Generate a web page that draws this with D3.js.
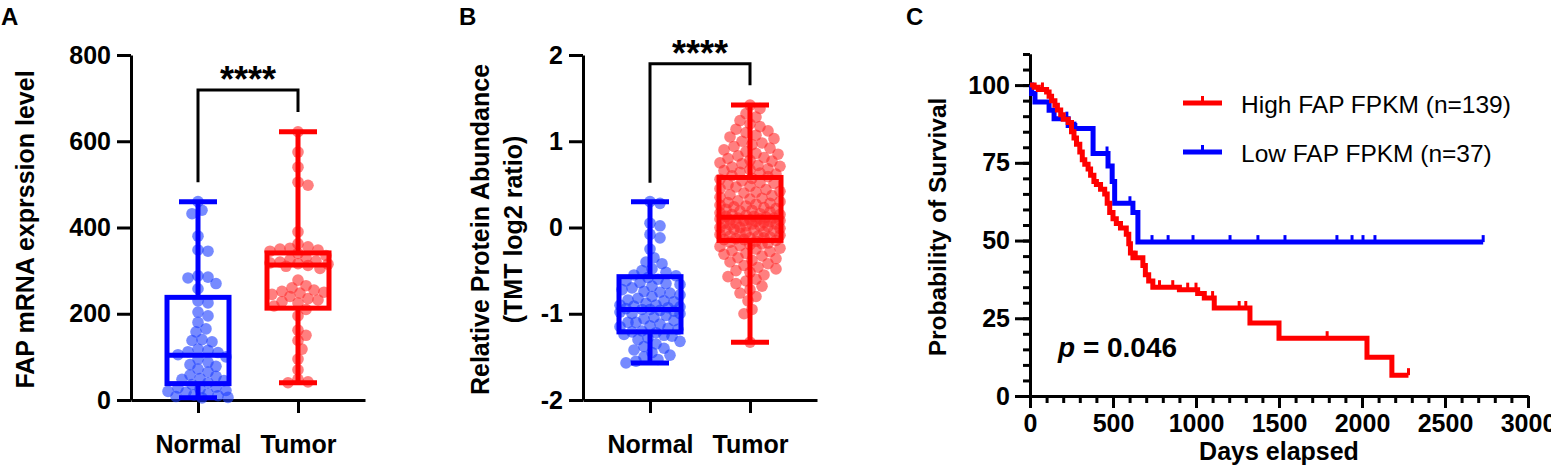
<!DOCTYPE html>
<html>
<head>
<meta charset="utf-8">
<script src="https://cdn.jsdelivr.net/npm/d3@7"></script>
<style>
  body { margin: 0; background: #fff; }
  svg { display: block; font-family: "Liberation Sans", Arial, sans-serif; }
  .axis path, .axis line { stroke: #000; stroke-width: 3; }
  .axis text { font-weight: bold; font-size: 25px; fill: #000; font-family: "Liberation Sans", Arial, sans-serif; }
</style>
</head>
<body>
<svg id="chart" width="1551" height="468"></svg>
<script>
const groups = ["Normal", "Tumor"];

// panel A: FAP mRNA
const mrnaNormal = [460, 440, 432, 380, 348, 345, 288, 285, 283, 270, 258, 230, 225, 204, 195, 180,
  165, 158, 140, 138, 135, 118, 115, 112, 110, 105, 100, 95, 88, 82, 78, 72, 65, 58, 55, 50, 48, 45,
  40, 36, 30, 28, 25, 22, 20, 18, 15, 12, 10, 8, 6, 5];
const mrnaTumor = [622, 575, 540, 505, 498, 390, 362, 355, 352, 350, 348, 345, 340, 335, 330, 325,
  322, 320, 318, 316, 315, 312, 310, 305, 278, 265, 260, 255, 252, 250, 248, 245, 240, 235, 232, 228,
  225, 218, 210, 195, 162, 150, 138, 118, 95, 70, 48, 42, 40];
const mrnaStats = [
  { group: "Normal", min: 5, q1: 38, median: 104, q3: 238, max: 460 },
  { group: "Tumor", min: 40, q1: 213, median: 313, q3: 341, max: 622 }
];
const mrnaTicks = [0, 200, 400, 600, 800];

// panel B: protein abundance
const protNormal = [0.30, 0.28, 0.05, 0.02, -0.08, -0.12, -0.25, -0.35, -0.40, -0.42, -0.48, -0.5,
  -0.52, -0.55, -0.56, -0.58, -0.6, -0.62, -0.64, -0.65, -0.66, -0.68, -0.7, -0.72, -0.74, -0.75, -0.76,
  -0.78, -0.8, -0.82, -0.84, -0.85, -0.86, -0.88, -0.9, -0.9, -0.91, -0.92, -0.93, -0.94, -0.95, -0.95,
  -0.96, -0.97, -0.98, -1.0, -1.0, -1.02, -1.04, -1.06, -1.08, -1.1, -1.1, -1.12, -1.14, -1.15, -1.17,
  -1.18, -1.2, -1.21, -1.22, -1.24, -1.25, -1.26, -1.28, -1.3, -1.32, -1.35, -1.38, -1.4, -1.42, -1.45,
  -1.48, -1.5, -1.53, -1.55, -1.57];
const protTumor = [1.42, 1.38, 1.32, 1.28, 1.24, 1.2, 1.17, 1.14, 1.12, 1.1, 1.07, 1.05, 1.03, 1.0,
  0.98, 0.96, 0.94, 0.92, 0.9, 0.88, 0.86, 0.85, 0.83, 0.81, 0.8, 0.78, 0.77, 0.75, 0.74, 0.72, 0.71,
  0.7, 0.68, 0.67, 0.66, 0.64, 0.63, 0.62, 0.6, 0.59,
  0.57, 0.56, 0.54, 0.52, 0.51, 0.5, 0.48, 0.47, 0.45, 0.44, 0.42, 0.41, 0.4, 0.38, 0.37, 0.35, 0.34,
  0.33, 0.31, 0.3, 0.29, 0.28, 0.27, 0.26, 0.25, 0.24, 0.23, 0.22, 0.21, 0.2, 0.19, 0.18, 0.17, 0.16,
  0.15, 0.15, 0.14, 0.13, 0.13, 0.12,
  0.11, 0.11, 0.1, 0.1, 0.09, 0.09, 0.08, 0.08, 0.07, 0.07, 0.06, 0.05, 0.05, 0.04, 0.04, 0.03, 0.02,
  0.02, 0.01, 0.0, 0.0, -0.01, -0.02, -0.03, -0.03, -0.04, -0.05, -0.06, -0.07, -0.08, -0.09, -0.1,
  -0.1, -0.11, -0.12, -0.12, -0.13, -0.14, -0.14, -0.15,
  -0.16, -0.17, -0.18, -0.19, -0.2, -0.21, -0.22, -0.24, -0.25, -0.27, -0.28, -0.3, -0.31, -0.33,
  -0.35, -0.36, -0.38, -0.4, -0.42, -0.44, -0.46, -0.48, -0.5, -0.52, -0.55, -0.57, -0.6, -0.62, -0.65,
  -0.68, -0.72, -0.76, -0.8, -0.85, -0.95, -1.0, -1.33];
const protStats = [
  { group: "Normal", min: -1.57, q1: -1.21, median: -0.95, q3: -0.57, max: 0.30 },
  { group: "Tumor", min: -1.33, q1: -0.15, median: 0.12, q3: 0.58, max: 1.42 }
];
const protTicks = [-2, -1, 0, 1, 2];

// panel C: Kaplan-Meier, [day, survival %]
const kmHigh = [[0, 100], [25, 99.3], [50, 98.6], [100, 97.8], [115, 96.4], [130, 95], [150, 93.5],
  [165, 92], [185, 90.5], [200, 89], [230, 88], [250, 85], [265, 83], [280, 81], [300, 78.5],
  [315, 76], [330, 74.5], [350, 73], [365, 71], [385, 69], [400, 68], [425, 66.5], [450, 65],
  [465, 62], [480, 59], [500, 57], [520, 55.5], [545, 54], [580, 52], [595, 49], [605, 46],
  [620, 44.5], [680, 42], [695, 39], [715, 37], [740, 35], [900, 34.2], [1010, 33], [1050, 31.5],
  [1110, 28.3], [1325, 23.5], [1500, 18.6], [2030, 12.5], [2180, 6.7]];
const kmHighEnd = 2280;
const kmHighCensor = [75, 640, 780, 860, 950, 1000, 1100, 1260, 1300, 1790, 2280];
const kmLow = [[0, 100], [10, 97.3], [30, 94.6], [115, 91.9], [145, 89.2], [230, 87], [270, 86],
  [380, 78], [470, 74], [495, 69], [510, 62], [620, 59], [650, 49.5]];
const kmLowEnd = 2730;
const kmLowCensor = [222, 271, 464, 602, 735, 832, 982, 1205, 1373, 1536, 1849, 1940, 2006, 2078, 2730];
const survTicks = [0, 25, 50, 75, 100];
const dayTicks = [0, 500, 1000, 1500, 2000, 2500, 3000];
const legendItems = [
  { label: "High FAP FPKM (n=139)", color: "#ff0000" },
  { label: "Low FAP FPKM (n=37)", color: "#0000ff" }
];

const BLUE = "#0000ff";
const RED = "#ff0000";
const font = "'Liberation Sans', Arial, sans-serif";

const svg = d3.select("#chart");

// simple deterministic beeswarm so points don't stack on one line
function swarm(values, y, r, maxW) {
  const minD = r * 1.55;
  const placed = [];
  values
    .map((v) => ({ v, py: y(v) }))
    .sort((a, b) => a.py - b.py)
    .forEach((p) => {
      let best = 0, bestD = -1;
      for (let k = 0; k <= maxW; k++) {
        const off = (k % 2 ? 1 : -1) * Math.ceil(k / 2) * 2;
        if (Math.abs(off) > maxW) break;
        let d = Infinity;
        for (const q of placed) {
          if (Math.abs(q.py - p.py) < minD) d = Math.min(d, Math.hypot(q.dx - off, q.py - p.py));
        }
        if (d >= minD) { best = off; bestD = d; break; }
        if (d > bestD) { bestD = d; best = off; }
      }
      p.dx = best;
      placed.push(p);
    });
  return placed;
}

function boxPanel(opts) {
  const { x, y, data, stats, ticks, bracket, label, letter, letterX } = opts;
  const g = svg.append("g");

  g.append("g")
    .attr("class", "axis")
    .attr("transform", `translate(${x.range()[0]},0)`)
    .call(d3.axisLeft(y).tickValues(ticks).tickFormat((d) => d).tickSize(14).tickPadding(6).tickSizeOuter(0));

  g.append("g")
    .attr("class", "axis")
    .attr("transform", `translate(0,${y.range()[0]})`)
    .call(d3.axisBottom(x).tickSize(13).tickPadding(22).tickSizeOuter(0))
    .call((a) => a.selectAll("text").style("font-size", "25px"));

  const colors = [BLUE, RED];
  data.forEach((vals, i) => {
    const cx = x(groups[i]);
    g.append("g")
      .selectAll("circle")
      .data(swarm(vals, y, 5.8, opts.spread[i]))
      .join("circle")
      .attr("cx", (d) => cx + d.dx)
      .attr("cy", (d) => d.py)
      .attr("r", 5.8)
      .attr("fill", i === 0 ? "#1a3cff" : "#ff2a2a")
      .attr("fill-opacity", 0.6);
  });

  const bw = 62, cap = 38;
  const box = g.selectAll(".box").data(stats).join("g").attr("class", "box")
    .attr("stroke", (d, i) => colors[i]).attr("stroke-width", 5).attr("fill", "none");
  box.append("line").attr("x1", (d) => x(d.group)).attr("x2", (d) => x(d.group))
    .attr("y1", (d) => y(d.max)).attr("y2", (d) => y(d.q3));
  box.append("line").attr("x1", (d) => x(d.group)).attr("x2", (d) => x(d.group))
    .attr("y1", (d) => y(d.q1)).attr("y2", (d) => y(d.min));
  box.append("line").attr("x1", (d) => x(d.group) - cap / 2).attr("x2", (d) => x(d.group) + cap / 2)
    .attr("y1", (d) => y(d.max)).attr("y2", (d) => y(d.max));
  box.append("line").attr("x1", (d) => x(d.group) - cap / 2).attr("x2", (d) => x(d.group) + cap / 2)
    .attr("y1", (d) => y(d.min)).attr("y2", (d) => y(d.min));
  box.append("rect").attr("x", (d) => x(d.group) - bw / 2).attr("width", bw)
    .attr("y", (d) => y(d.q3)).attr("height", (d) => y(d.q1) - y(d.q3));
  box.append("line").attr("x1", (d) => x(d.group) - bw / 2).attr("x2", (d) => x(d.group) + bw / 2)
    .attr("y1", (d) => y(d.median)).attr("y2", (d) => y(d.median));

  // significance bracket
  const bx0 = x(groups[0]), bx1 = x(groups[1]);
  g.append("path")
    .attr("d", `M${bx0},${y(bracket.left)}V${y(bracket.top)}H${bx1}V${y(bracket.right)}`)
    .attr("fill", "none").attr("stroke", "#000").attr("stroke-width", 3);
  g.append("text")
    .attr("x", (bx0 + bx1) / 2).attr("y", y(bracket.top) + 2)
    .attr("text-anchor", "middle").attr("font-family", font).attr("font-weight", "bold")
    .attr("font-size", 36).text("****");

  // y label
  const lab = g.append("text")
    .attr("transform", `translate(${opts.labelX},${(y.range()[0] + y.range()[1]) / 2 + 2}) rotate(-90)`)
    .attr("text-anchor", "middle").attr("font-family", font).attr("font-weight", "bold").attr("font-size", 25);
  label.forEach((t, i) => lab.append("tspan").attr("x", 0).attr("dy", i === 0 ? 0 : 33).text(t));

  svg.append("text").attr("x", letterX).attr("y", 25).attr("font-family", font)
    .attr("font-weight", "bold").attr("font-size", 24).text(letter);
}

// ---- Panel A
const xA = d3.scalePoint(groups, [131, 365]).padding(0.67);
const yA = d3.scaleLinear([0, 800], [400, 55]);
boxPanel({
  x: xA, y: yA, data: [mrnaNormal, mrnaTumor], stats: mrnaStats, ticks: mrnaTicks,
  bracket: { top: 719, left: 505, right: 668 },
  label: ["FAP mRNA exprssion level"], labelX: 34, letter: "A", letterX: 1, spread: [30, 30]
});

// ---- Panel B
const xB = d3.scalePoint(groups, [583, 817]).padding(0.67);
const yB = d3.scaleLinear([-2, 2], [400, 55]);
boxPanel({
  x: xB, y: yB, data: [protNormal, protTumor], stats: protStats, ticks: protTicks,
  bracket: { top: 1.9, left: 0.52, right: 1.65 },
  label: ["Relative Protein Abundance", "(TMT log2 ratio)"], labelX: 489, letter: "B", letterX: 459,
  spread: [30, 30]
});

// ---- Panel C
const xC = d3.scaleLinear([0, 3000], [1030, 1528]);
const yC = d3.scaleLinear([0, 110], [396, 54]);
const gC = svg.append("g");

gC.append("g").attr("class", "axis").attr("transform", `translate(1030,0)`)
  .call(d3.axisLeft(yC).tickValues(d3.range(0, 111, 5)).tickSize(7).tickFormat("").tickSizeOuter(0));
gC.append("g").attr("class", "axis").attr("transform", `translate(1030,0)`)
  .call(d3.axisLeft(yC).tickValues(survTicks).tickSize(15).tickPadding(5).tickSizeOuter(0));
gC.append("g").attr("class", "axis").attr("transform", `translate(0,396)`)
  .call(d3.axisBottom(xC).tickValues(d3.range(0, 3001, 100)).tickSize(7).tickFormat("").tickSizeOuter(0));
gC.append("g").attr("class", "axis").attr("transform", `translate(0,396)`)
  .call(d3.axisBottom(xC).tickValues(dayTicks).tickSize(12).tickPadding(6).tickFormat(d3.format("d")).tickSizeOuter(0));

gC.append("text")
  .attr("transform", `translate(946,${(396 + 54) / 2 + 2}) rotate(-90)`)
  .attr("text-anchor", "middle").attr("font-family", font).attr("font-weight", "bold")
  .attr("font-size", 24.5).text("Probability of Survival");
gC.append("text").attr("x", 1279).attr("y", 460).attr("text-anchor", "middle")
  .attr("font-family", font).attr("font-weight", "bold").attr("font-size", 25).text("Days elapsed");

const survAt = (steps, day) => {
  let s = steps[0][1];
  for (const [d, p] of steps) if (d <= day) s = p;
  return s;
};
const kmLine = d3.line().x((d) => xC(d[0])).y((d) => yC(d[1])).curve(d3.curveStepAfter);

[[kmLow, kmLowEnd, kmLowCensor, BLUE], [kmHigh, kmHighEnd, kmHighCensor, RED]].forEach(([steps, end, cens, col]) => {
  const pts = steps.concat([[end, steps[steps.length - 1][1]]]);
  gC.append("path").attr("d", kmLine(pts)).attr("fill", "none").attr("stroke", col)
    .attr("stroke-width", 5).attr("stroke-linejoin", "miter");
  gC.append("g").selectAll("line").data(cens).join("line")
    .attr("x1", (d) => xC(d)).attr("x2", (d) => xC(d))
    .attr("y1", (d) => yC(survAt(steps, d))).attr("y2", (d) => yC(survAt(steps, d)) - 7)
    .attr("stroke", col).attr("stroke-width", 3);
});

// legend
const leg = gC.selectAll(".leg").data(legendItems).join("g").attr("class", "leg")
  .attr("transform", (d, i) => `translate(1183,${103 + i * 49})`);
leg.append("line").attr("x1", 0).attr("x2", 39).attr("stroke", (d) => d.color).attr("stroke-width", 5);
leg.append("line").attr("x1", 19.5).attr("x2", 19.5).attr("y1", 0).attr("y2", -7)
  .attr("stroke", (d) => d.color).attr("stroke-width", 3);
leg.append("text").attr("x", 58).attr("y", 10).attr("font-family", font).attr("font-size", 24.5)
  .text((d) => d.label);

// p value
const pv = gC.append("text").attr("x", 1058).attr("y", 357).attr("font-family", font)
  .attr("font-weight", "bold").attr("font-size", 28);
pv.append("tspan").attr("font-style", "italic").text("p");
pv.append("tspan").text(" = 0.046");

svg.append("text").attr("x", 906).attr("y", 25).attr("font-family", font)
  .attr("font-weight", "bold").attr("font-size", 24).text("C");
</script>
</body>
</html>
